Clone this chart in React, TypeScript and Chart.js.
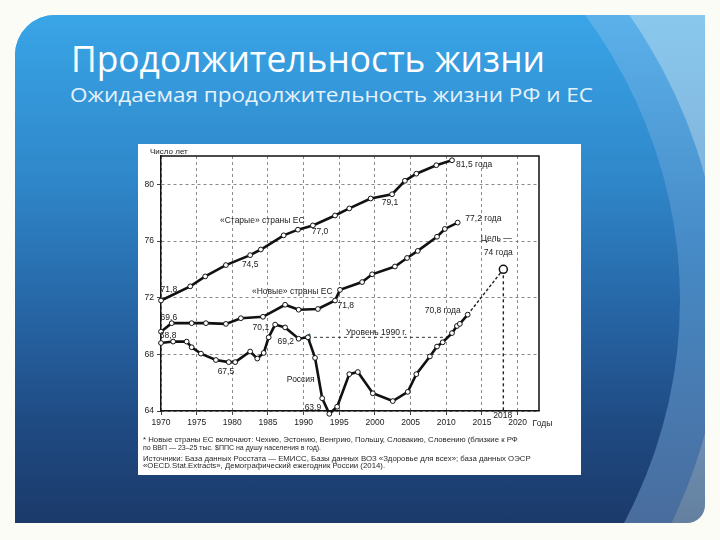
import React, { useEffect, useRef } from "react";
import { Chart, registerables } from "chart.js";

Chart.register(...registerables);

// ---- data ----
const oldEuYears = [1970, 1974.1, 1976.2, 1979.1, 1982.5, 1984, 1987.2, 1989.2, 1991.3, 1994.4, 1996.4, 1999.4, 2002.4, 2004.2, 2005.8, 2008.6, 2010.8];
const oldEuValues = [71.8, 72.8, 73.5, 74.3, 75.0, 75.4, 76.4, 76.8, 77.1, 77.8, 78.3, 79.0, 79.3, 80.25, 80.75, 81.35, 81.7];

const newEuYears = [1970, 1971.5, 1974.3, 1976.3, 1979.1, 1981.2, 1984.3, 1987.4, 1989.3, 1992, 1994.4, 1995.1, 1998.2, 1999.6, 2002.8, 2004.5, 2006, 2008.7, 2009.8, 2011.6];
const newEuValues = [69.6, 70.2, 70.2, 70.2, 70.15, 70.55, 70.65, 71.5, 71.15, 71.2, 71.8, 72.55, 73.1, 73.65, 74.2, 74.8, 75.3, 76.3, 76.85, 77.3];

const russiaYears = [1970, 1971.7, 1973.6, 1974.3, 1975.6, 1977.7, 1979.5, 1980.4, 1982.5, 1983.5, 1984.4, 1985.1, 1986, 1987.4, 1989.3, 1990.6, 1991.6, 1992.6, 1993.6, 1994.7, 1996.4, 1997.6, 1999.7, 2002.5, 2004.6, 2005.8, 2007.7, 2008.7, 2009.5, 2010.8, 2011.5, 2011.9, 2013];
const russiaValues = [68.8, 68.9, 68.9, 68.5, 68.05, 67.6, 67.45, 67.45, 68.2, 67.7, 68.1, 69.2, 70.1, 69.9, 69.1, 69.2, 67.75, 64.9, 63.8, 64.3, 66.6, 66.75, 65.25, 64.7, 65.35, 66.6, 67.85, 68.55, 68.85, 69.5, 70.0, 70.15, 70.8];

const goalYears = [2013, 2018];
const goalValues = [70.8, 74];
const goalDropYears = [2018, 2018];
const goalDropValues = [74, 64];
const level1990Years = [1990.6, 2010.1];
const level1990Values = [69.2, 69.2];

const xTickValues = [1970, 1975, 1980, 1985, 1990, 1995, 2000, 2005, 2010, 2015, 2020];
const yTickValues = [64, 68, 72, 76, 80];

const annotations = [
  { text: "«Старые» страны ЕС", x: 1984.2, y: 77.45 },
  { text: "77,0", x: 1992.3, y: 76.67 },
  { text: "74,5", x: 1982.5, y: 74.34 },
  { text: "71,8", x: 1971.1, y: 72.57 },
  { text: "«Новые» страны ЕС", x: 1988.4, y: 72.42 },
  { text: "71,8", x: 1995.9, y: 71.43 },
  { text: "69,6", x: 1971.1, y: 70.58 },
  { text: "68,8", x: 1971.0, y: 69.31 },
  { text: "70,1", x: 1984.0, y: 69.88 },
  { text: "69,2", x: 1987.5, y: 68.88 },
  { text: "Уровень 1990 г.", x: 2000.2, y: 69.52 },
  { text: "67,5", x: 1979.1, y: 66.76 },
  { text: "Россия", x: 1989.6, y: 66.19 },
  { text: "63,9", x: 1991.3, y: 64.21 },
  { text: "79,1", x: 2002.1, y: 78.73 },
  { text: "81,5 года", x: 2013.9, y: 81.42 },
  { text: "77,2 года", x: 2015.2, y: 77.6 },
  { text: "Цель —", x: 2017.0, y: 76.18 },
  { text: "74 года", x: 2017.3, y: 75.19 },
  { text: "70,8 года", x: 2009.5, y: 71.08 },
];

const footnotes = [
  "* Новые страны ЕС включают: Чехию, Эстонию, Венгрию, Польшу, Словакию, Словению (близкие к РФ",
  "по ВВП — 23–25 тыс. $ППС на душу населения в год).",
  "Источники: База данных Росстата — ЕМИСС, Базы данных ВОЗ «Здоровье для всех»; база данных ОЭСР",
  "«OECD.Stat.Extracts», Демографический ежегодник России (2014).",
];

const toPoints = (xs: number[], ys: number[]) => xs.map((x, i) => ({ x, y: ys[i] }));

const FONT = '"Liberation Sans", Arial, sans-serif';

const overlayPlugin = {
  id: "overlay",
  afterDraw(chart: any) {
    const { ctx, chartArea: a, scales } = chart;
    const xs = scales.x;
    const ys = scales.y;
    ctx.save();
    ctx.strokeStyle = "#111";
    ctx.lineWidth = 1.5;
    ctx.setLineDash([]);
    ctx.beginPath();
    ctx.moveTo(a.left, a.top);
    ctx.lineTo(a.right, a.top);
    ctx.lineTo(a.right, a.bottom);
    ctx.stroke();

    ctx.fillStyle = "#1a1a1a";
    ctx.textBaseline = "middle";
    ctx.textAlign = "center";
    ctx.font = `8.5px ${FONT}`;
    annotations.forEach((an) => {
      ctx.fillText(an.text, xs.getPixelForValue(an.x), ys.getPixelForValue(an.y));
    });

    ctx.font = `8px ${FONT}`;
    ctx.textAlign = "left";
    ctx.fillText("Число лет", a.left - 11, a.top - 4);
    ctx.font = `8.5px ${FONT}`;
    ctx.fillText("2018", xs.getPixelForValue(2018) - 10, a.bottom + 5);
    ctx.fillText("Годы", xs.getPixelForValue(2020) + 15, a.bottom + 13);

    ctx.font = `7.8px ${FONT}`;
    ctx.fillStyle = "#262626";
    const h = chart.height;
    ctx.fillText(footnotes[0], 5, h - 35, 384);
    ctx.fillText(footnotes[1], 5, h - 27, 178);
    ctx.fillText(footnotes[2], 5, h - 16, 388);
    ctx.fillText(footnotes[3], 5, h - 9, 262);
    ctx.restore();
  },
};

function LifeChart() {
  const ref = useRef<HTMLCanvasElement | null>(null);
  useEffect(() => {
    if (!ref.current) return;
    const main = {
      borderColor: "#111",
      borderWidth: 2.6,
      pointRadius: 2.4,
      pointBackgroundColor: "#fff",
      pointBorderColor: "#111",
      pointBorderWidth: 1,
      tension: 0,
      clip: 8,
    };
    const gridOpts = { color: "#6e6e6e", lineWidth: 0.8, tickColor: "#111", tickLength: 4, tickBorderDash: [] };
    const borderOpts = { color: "#111", width: 1.5, dash: [3, 3] };
    const chart = new Chart(ref.current, {
      type: "line",
      data: {
        datasets: [
          { ...main, data: toPoints(oldEuYears, oldEuValues) },
          { ...main, data: toPoints(newEuYears, newEuValues) },
          { ...main, data: toPoints(russiaYears, russiaValues) },
          {
            data: toPoints(goalYears, goalValues),
            borderColor: "#222",
            borderWidth: 1.4,
            borderDash: [3, 2],
            pointRadius: [0, 4],
            pointBackgroundColor: "#fff",
            pointBorderColor: "#111",
            pointBorderWidth: 1.5,
            clip: 8,
          },
          {
            data: toPoints(goalDropYears, goalDropValues),
            borderColor: "#222",
            borderWidth: 1.4,
            borderDash: [3, 3],
            pointRadius: 0,
            clip: 8,
          },
          {
            data: toPoints(level1990Years, level1990Values),
            borderColor: "#333",
            borderWidth: 1,
            borderDash: [3, 3],
            pointRadius: [4, 0],
            pointStyle: "triangle",
            pointRotation: -90,
            pointBackgroundColor: "#2e6b4a",
            pointBorderColor: "#2e6b4a",
            clip: 8,
          },
        ],
      },
      options: {
        animation: false,
        responsive: false,
        maintainAspectRatio: false,
        layout: { padding: { top: 12, right: 42, bottom: 42, left: 0 } },
        plugins: { legend: { display: false }, tooltip: { enabled: false } },
        scales: {
          x: {
            type: "linear",
            min: 1970,
            max: 2023,
            afterBuildTicks: (s: any) => {
              s.ticks = xTickValues.map((v) => ({ value: v }));
            },
            afterFit: (s: any) => {
              s.height = 22;
            },
            ticks: {
              autoSkip: false,
              maxRotation: 0,
              padding: 3,
              color: "#1a1a1a",
              font: { family: FONT, size: 8.5 },
              callback: (v: any) => String(v),
            },
            grid: gridOpts,
            border: borderOpts,
          },
          y: {
            type: "linear",
            min: 64,
            max: 82,
            afterBuildTicks: (s: any) => {
              s.ticks = yTickValues.map((v) => ({ value: v }));
            },
            afterFit: (s: any) => {
              s.width = 23;
            },
            ticks: {
              padding: 3,
              color: "#1a1a1a",
              font: { family: FONT, size: 8.5 },
              callback: (v: any) => String(v),
            },
            grid: gridOpts,
            border: borderOpts,
          },
        },
      },
      plugins: [overlayPlugin],
    } as any);
    return () => chart.destroy();
  }, []);
  return <canvas ref={ref} width={443} height={331} style={{ display: "block", width: 443, height: 331 }} />;
}

export default function App() {
  return (
    <div style={{ position: "fixed", left: 0, top: 0, width: 720, height: 540, background: "#fcfcf6", overflow: "hidden" }}>
      <div
        style={{
          position: "absolute",
          left: 15,
          top: 15,
          width: 690,
          height: 508,
          borderRadius: "40px 0 18px 0",
          overflow: "hidden",
          background: "linear-gradient(to bottom, #8ac8ee 0%, #7aa6d0 55%, #64809f 100%)",
        }}
      >
        <div
          style={{
            position: "absolute",
            left: 95 - 612,
            top: 290 - 548,
            width: 1224,
            height: 1096,
            borderRadius: "50%",
            background: "linear-gradient(to bottom, #5cb2ec 23%, #468ac6 45%, #4a6a9a 72%)",
          }}
        />
        <div
          style={{
            position: "absolute",
            left: 85 - 580,
            top: 285 - 520,
            width: 1160,
            height: 1040,
            borderRadius: "50%",
            background: "linear-gradient(to bottom, #39a5e7 22.6%, #2f88ca 38%, #2663a3 52%, #1f4a82 62%, #1b3a6a 71.5%)",
          }}
        />
      </div>
      <svg width={720} height={140} style={{ position: "absolute", left: 0, top: 0 }}>
        <text x={71} y={72} fill="#ffffff" fontFamily='"Open Sans", sans-serif' fontSize={37} textLength={474} lengthAdjust="spacingAndGlyphs">
          Продолжительность жизни
        </text>
        <text x={70} y={102} fill="#e4f2fc" fontFamily='"Open Sans", sans-serif' fontSize={20} textLength={523} lengthAdjust="spacingAndGlyphs">
          Ожидаемая продолжительность жизни РФ и ЕС
        </text>
      </svg>
      <div style={{ position: "absolute", left: 138, top: 144, width: 443, height: 331, background: "#fff" }}>
        <LifeChart />
      </div>
    </div>
  );
}
